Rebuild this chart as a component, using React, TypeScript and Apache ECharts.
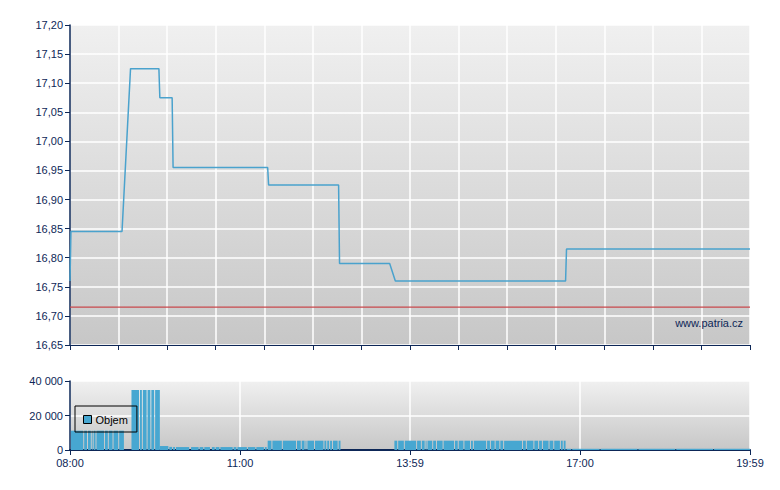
import React, { useEffect, useRef } from "react";
import * as echarts from "echarts";

// Minutes after 08:00 (session 08:00 – 19:59)
const SESSION_MINUTES = 719;
const TIME_LABELS = ["08:00", "11:00", "13:59", "17:00", "19:59"];

// Price line: minute offsets and prices
const priceMinutes = [0, 1, 55, 64, 94, 95, 108, 109, 209, 210, 284, 285, 338, 344, 524, 525, 719];
const priceValues = [16.76, 16.845, 16.845, 17.125, 17.125, 17.075, 17.075, 16.955, 16.955, 16.925, 16.925, 16.79, 16.79, 16.76, 16.76, 16.815, 16.815];
const prevClose = 16.715;

// Volume blocks: start minute, end minute, volume
const volStart = [
  1, 15, 19, 23, 25, 28, 37, 41, 46, 52,
  65, 74, 77, 82, 86, 90,
  95, 105,
  109, 112, 128, 137, 142, 150, 154, 159, 173, 177, 188, 197, 206,
  209, 214, 225, 240, 245, 249, 251, 259, 269, 272, 275, 278, 284,
  343, 347, 354, 367, 372, 376, 378, 384, 388, 395, 407, 411, 417, 424, 427, 441, 445, 450, 455, 459, 479, 483, 491, 496, 500, 507, 512, 519, 522,
  525, 531, 561, 601, 641, 681
];
const volEnd = [
  14, 18, 22, 24, 27, 36, 40, 45, 51, 57,
  73, 76, 81, 85, 89, 95,
  104, 108,
  111, 126, 136, 141, 148, 153, 158, 172, 176, 187, 196, 205, 208,
  213, 224, 239, 244, 248, 250, 258, 268, 271, 274, 277, 283, 286,
  346, 353, 366, 371, 375, 377, 383, 387, 394, 406, 410, 416, 423, 426, 440, 444, 449, 454, 458, 478, 482, 490, 495, 499, 506, 511, 518, 521, 524,
  530, 560, 600, 640, 680, 719
];
const volValues = [
  11200, 11200, 11200, 11200, 11200, 11200, 11200, 11200, 11200, 11200,
  34800, 34800, 34800, 34800, 34800, 34800,
  2300, 1800,
  1700, 1700, 1700, 1700, 1700, 1700, 1700, 1700, 1700, 1700, 1700, 1700, 1700,
  5400, 5400, 5400, 5400, 5400, 5400, 5400, 5400, 5400, 5400, 5400, 5400, 5400,
  5400, 5400, 5400, 5400, 5400, 5400, 5400, 5400, 5400, 5400, 5400, 5400, 5400, 5400, 5400, 5400, 5400, 5400, 5400, 5400, 5400, 5400, 5400, 5400, 5400, 5400, 5400, 5400, 5400,
  700, 700, 700, 700, 700, 700
];

const NAVY = "#0d2757";
const LINE_BLUE = "#4aa2cd";
const BAR_BLUE = "#47a7d1";
const FONT = "Liberation Sans, Arial, sans-serif";

export default function App() {
  const ref = useRef<HTMLDivElement>(null);

  useEffect(() => {
    document.body.style.margin = "0";
    if (!ref.current) return;
    const chart = echarts.init(ref.current, undefined, { renderer: "svg" });

    const bg = () =>
      new echarts.graphic.LinearGradient(0, 0, 0, 1, [
        { offset: 0, color: "#f0f0f0" },
        { offset: 1, color: "#c7c7c7" },
      ]);

    const priceData = priceMinutes.map((m, i) => [m, priceValues[i]]);
    const volData = volStart.map((s, i) => [s, volEnd[i], volValues[i]]);

    const axisText = { color: NAVY, fontSize: 11, fontFamily: FONT };

    chart.setOption({
      animation: false,
      textStyle: { fontFamily: FONT },
      grid: [
        { left: 70, top: 25, width: 680, height: 320, show: true, borderWidth: 0, backgroundColor: bg() },
        { left: 70, top: 381, width: 680, height: 69, show: true, borderWidth: 0, backgroundColor: bg() },
      ],
      legend: {
        left: 75,
        top: 406,
        data: ["Objem"],
        orient: "horizontal",
        padding: [8, 9, 7, 8],
        itemWidth: 8,
        itemHeight: 8,
        itemGap: 4,
        borderColor: "#000",
        borderWidth: 1,
        borderRadius: 0,
        icon: "rect",
        itemStyle: { borderColor: "#000", borderWidth: 1 },
        textStyle: { color: "#000", fontSize: 11, fontFamily: FONT, padding: [0, 0, 0, -1] },
        selectedMode: false,
      },
      xAxis: [
        {
          type: "value",
          gridIndex: 0,
          min: 0,
          max: SESSION_MINUTES,
          interval: SESSION_MINUTES / 14,
          axisLine: { show: true, onZero: false, lineStyle: { color: NAVY, width: 1 } },
          axisTick: { show: true, length: 5, lineStyle: { color: NAVY } },
          axisLabel: { show: false },
          splitLine: { show: true, lineStyle: { color: "#ffffff", width: 1.5 } },
        },
        {
          type: "value",
          gridIndex: 1,
          min: 0,
          max: SESSION_MINUTES,
          interval: SESSION_MINUTES / 4,
          axisLine: { show: true, onZero: false, lineStyle: { color: NAVY, width: 2 } },
          axisTick: { show: true, length: 5, lineStyle: { color: NAVY } },
          axisLabel: {
            ...axisText,
            margin: 7,
            showMinLabel: true,
            showMaxLabel: true,
            formatter: (_v: number, idx: number) => TIME_LABELS[idx] ?? "",
          },
          splitLine: { show: true, lineStyle: { color: "#ffffff", width: 1.5 } },
        },
      ],
      yAxis: [
        {
          type: "value",
          gridIndex: 0,
          min: 16.65,
          max: 17.2,
          interval: 0.05,
          axisLine: { show: true, lineStyle: { color: NAVY, width: 1.5 } },
          axisTick: { show: true, length: 5, lineStyle: { color: NAVY } },
          axisLabel: {
            ...axisText,
            margin: 7,
            formatter: (v: number) => v.toFixed(2).replace(".", ","),
          },
          splitLine: { show: true, lineStyle: { color: "#ffffff", width: 1.5 } },
        },
        {
          type: "value",
          gridIndex: 1,
          min: 0,
          max: 40000,
          interval: 20000,
          axisLine: { show: true, lineStyle: { color: NAVY, width: 1.5 } },
          axisTick: { show: true, length: 5, lineStyle: { color: NAVY } },
          axisLabel: {
            ...axisText,
            margin: 7,
            formatter: (v: number) => String(v).replace(/\B(?=(\d{3})+(?!\d))/g, " "),
          },
          splitLine: { show: true, lineStyle: { color: "#ffffff", width: 1.5 } },
        },
      ],
      graphic: [
        {
          type: "text",
          right: 37,
          top: 317,
          style: { text: "www.patria.cz", fill: NAVY, font: `11px ${FONT}` },
          z: 10,
        },
      ],
      series: [
        {
          name: "Předchozí závěr",
          type: "line",
          xAxisIndex: 0,
          yAxisIndex: 0,
          data: [
            [0, prevClose],
            [SESSION_MINUTES, prevClose],
          ],
          symbol: "none",
          silent: true,
          lineStyle: { color: "#c8484c", width: 1.2 },
          z: 3,
        },
        {
          name: "Cena",
          type: "line",
          xAxisIndex: 0,
          yAxisIndex: 0,
          data: priceData,
          symbol: "none",
          silent: true,
          lineStyle: { color: LINE_BLUE, width: 1.5 },
          z: 4,
        },
        {
          name: "Objem",
          type: "custom",
          xAxisIndex: 1,
          yAxisIndex: 1,
          data: volData,
          encode: { x: [0, 1], y: 2 },
          itemStyle: { color: BAR_BLUE },
          silent: true,
          renderItem: (_params: any, api: any) => {
            const s = api.value(0);
            const e = api.value(1);
            const v = api.value(2);
            const p0 = api.coord([s, v]);
            const p1 = api.coord([e, 0]);
            return {
              type: "rect",
              shape: { x: p0[0], y: p0[1], width: p1[0] - p0[0], height: p1[1] - p0[1] },
              style: { fill: BAR_BLUE },
            };
          },
        },
      ],
    });

    return () => chart.dispose();
  }, []);

  return <div ref={ref} style={{ width: 780, height: 490 }} />;
}
